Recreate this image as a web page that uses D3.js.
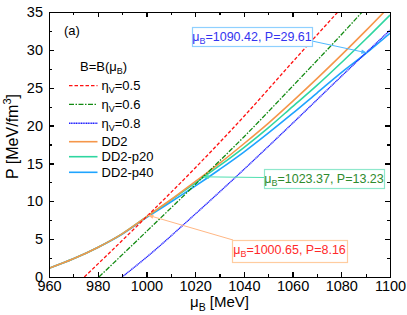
<!DOCTYPE html>
<html>
<head>
<meta charset="utf-8">
<script src="https://cdn.jsdelivr.net/npm/d3@7"></script>
<style>
  body { margin: 0; background: #fff; }
  svg { font-family: "Liberation Sans", Arial, sans-serif; }
  .axis path, .axis line { stroke: #000; stroke-width: 1.2px; shape-rendering: crispEdges; }
  .axis text { font-size: 14.5px; fill: #000; }
</style>
</head>
<body>
<div id="chart"></div>
<script>
// mu_B grid for the hadronic curves
const muDD2 = [960, 970, 980, 990, 1000, 1010, 1020, 1030, 1040, 1050, 1060, 1070, 1080, 1090, 1100];
const pDD2 = [1.15, 2.4, 3.9, 5.7, 7.95, 10.2, 12.6, 15.0, 17.6, 20.3, 23.2, 26.2, 29.3, 32.5, 35.8];
const pDD2p20 = [1.15, 2.4, 3.9, 5.7, 7.95, 10.15, 12.4, 14.7, 17.1, 19.7, 22.5, 25.3, 28.3, 31.4, 34.6];
const pDD2p40 = [1.15, 2.4, 3.9, 5.65, 7.85, 9.9, 12.0, 14.2, 16.5, 19.0, 21.6, 24.3, 27.0, 29.5, 32.2];

// quark matter curves, B=B(mu_B)
const muEta05 = [974.5, 980, 1000, 1020, 1040, 1060, 1080];
const pEta05 = [0, 1.7, 7.95, 14.4, 21.2, 28.4, 35.5];
const muEta06 = [980.5, 1000, 1020, 1040, 1060, 1080, 1090];
const pEta06 = [0, 6.0, 12.2, 18.5, 25.2, 32.0, 35.5];
const muEta08 = [990, 1000, 1020, 1040, 1060, 1080, 1100];
const pEta08 = [0, 2.6, 8.3, 14.2, 20.3, 26.5, 32.6];

const xTicks = [960, 980, 1000, 1020, 1040, 1060, 1080, 1100];
const yTicks = [0, 5, 10, 15, 20, 25, 30, 35];

// crossing points
const crossMu = [1090.42, 1023.37, 1000.65];
const crossP = [29.61, 13.23, 8.16];

const W = 407, H = 315;
const margin = { top: 12, right: 17, bottom: 38, left: 49 };
const width = W - margin.left - margin.right;
const height = H - margin.top - margin.bottom;

const x = d3.scaleLinear().domain([960, 1100]).range([0, width]);
const y = d3.scaleLinear().domain([0, 35]).range([height, 0]);

const svg = d3.select('#chart').append('svg')
  .attr('width', W).attr('height', H);

const defs = svg.append('defs');
defs.append('clipPath').attr('id', 'clip')
  .append('rect').attr('width', width).attr('height', height);

function marker(id, color) {
  defs.append('marker').attr('id', id)
    .attr('viewBox', '0 0 10 10').attr('refX', 9).attr('refY', 5)
    .attr('markerWidth', 7).attr('markerHeight', 6).attr('orient', 'auto')
    .append('path').attr('d', 'M0,1.5 L10,5 L0,8.5 Z').attr('fill', color);
}
marker('arrBlue', '#4fb8ff');
marker('arrTeal', '#4fe0b0');
marker('arrOrange', '#ffb784');

const g = svg.append('g').attr('transform', `translate(${margin.left},${margin.top})`);

const line = d3.line().curve(d3.curveMonotoneX).x(d => x(d[0])).y(d => y(d[1]));
const zip = (a, b) => a.map((v, i) => [v, b[i]]);

const series = [
  { mu: muDD2, p: pDD2, color: '#f5964a', dash: null, w: 1.6, name: 'DD2' },
  { mu: muDD2, p: pDD2p20, color: '#2fd6a0', dash: null, w: 1.6, name: 'DD2-p20' },
  { mu: muDD2, p: pDD2p40, color: '#1fa4ff', dash: null, w: 1.6, name: 'DD2-p40' },
  { mu: muEta05, p: pEta05, color: '#ff1010', dash: '3.5,2', w: 1.3, name: '0.5' },
  { mu: muEta06, p: pEta06, color: '#118a11', dash: '5,1.5,1.5,1.5', w: 1.3, name: '0.6' },
  { mu: muEta08, p: pEta08, color: '#2020ff', dash: '1.2,0.5', w: 1.4, name: '0.8' }
];

// draw order: p40, p20, DD2 on top, then quark curves
const drawOrder = [2, 1, 0, 3, 4, 5];
const plot = g.append('g').attr('clip-path', 'url(#clip)');
drawOrder.forEach(si => {
  const s = series[si];
  plot.append('path')
    .attr('d', line(zip(s.mu, s.p)))
    .attr('fill', 'none')
    .attr('stroke', s.color)
    .attr('stroke-width', s.w)
    .attr('stroke-dasharray', s.dash);
});

// axes with inward ticks
const minorX = d3.range(970, 1100, 20);
const minorY = d3.range(2.5, 35, 5);

g.append('g').attr('class', 'axis').attr('transform', `translate(0,${height})`)
  .call(d3.axisBottom(x).tickValues(xTicks).tickSize(-5).tickPadding(4).tickFormat(d3.format('d')));
g.append('g').attr('class', 'axis').attr('transform', `translate(0,${height})`)
  .call(d3.axisBottom(x).tickValues(minorX).tickSize(-3).tickFormat(''))
  .call(a => a.select('.domain').remove());
g.append('g').attr('class', 'axis')
  .call(d3.axisTop(x).tickValues(xTicks).tickSize(-5).tickFormat(''));
g.append('g').attr('class', 'axis')
  .call(d3.axisTop(x).tickValues(minorX).tickSize(-3).tickFormat(''))
  .call(a => a.select('.domain').remove());

g.append('g').attr('class', 'axis')
  .call(d3.axisLeft(y).tickValues(yTicks).tickSize(-5).tickPadding(6));
g.append('g').attr('class', 'axis')
  .call(d3.axisLeft(y).tickValues(minorY).tickSize(-3).tickFormat(''))
  .call(a => a.select('.domain').remove());
g.append('g').attr('class', 'axis').attr('transform', `translate(${width},0)`)
  .call(d3.axisRight(y).tickValues(yTicks).tickSize(-5).tickFormat(''));
g.append('g').attr('class', 'axis').attr('transform', `translate(${width},0)`)
  .call(d3.axisRight(y).tickValues(minorY).tickSize(-3).tickFormat(''))
  .call(a => a.select('.domain').remove());

// axis titles
const xt = svg.append('text')
  .attr('x', margin.left + width / 2).attr('y', H - 8)
  .attr('text-anchor', 'middle').attr('font-size', 15);
xt.append('tspan').text('μ');
xt.append('tspan').attr('font-size', 10.5).attr('dy', 4).text('B');
xt.append('tspan').attr('dy', -4).text(' [MeV]');

const yt = svg.append('text')
  .attr('transform', `translate(18,${margin.top + height / 2 - 8}) rotate(-90)`)
  .attr('text-anchor', 'middle').attr('font-size', 16);
yt.append('tspan').text('P [MeV/fm');
yt.append('tspan').attr('font-size', 11).attr('dy', -7).text('3');
yt.append('tspan').attr('dy', 7).text(']');

// panel label
g.append('text').attr('x', 15).attr('y', 23).attr('font-size', 13).text('(a)');

// legend
const lg = g.append('g');
const lt = lg.append('text').attr('x', 31).attr('y', 59).attr('font-size', 13);
lt.append('tspan').text('B=B(μ');
lt.append('tspan').attr('font-size', 9).attr('dy', 3).text('B');
lt.append('tspan').attr('dy', -3).text(')');

const legendOrder = [3, 4, 5, 0, 1, 2];
const legendY = [73.7, 92.3, 111.3, 129.7, 144.7, 160.3];
legendOrder.forEach((si, i) => {
  const s = series[si];
  const ly = legendY[i];
  lg.append('line').attr('x1', 20).attr('x2', 48.5).attr('y1', ly).attr('y2', ly)
    .attr('stroke', s.color).attr('stroke-width', s.w).attr('stroke-dasharray', s.dash);
  const t = lg.append('text').attr('x', 52.5).attr('y', ly + 4.5).attr('font-size', 13);
  if (si >= 3) {
    t.append('tspan').text('η');
    t.append('tspan').attr('font-size', 9).attr('dy', 3).text('V');
    t.append('tspan').attr('dy', -3).text('=' + s.name);
  } else {
    t.text(s.name);
  }
});

// annotations
const notes = [
  { box: [192, 27, 120, 19], border: '#8fd0ff', text: '#3434f0', line: '#4fb8ff', arrow: 'arrBlue', from: [312, 41] },
  { box: [264, 169, 120, 19], border: '#8fe8cc', text: '#2e8b2e', line: '#4fe0b0', arrow: 'arrTeal', from: [264, 177.5] },
  { box: [232, 240, 115, 22], border: '#ffcc9f', text: '#ff2a2a', line: '#ffb784', arrow: 'arrOrange', from: [233, 240] }
];
notes.forEach((n, i) => {
  const [bx, by, bw, bh] = n.box;
  const tx = margin.left + x(crossMu[i]);
  const ty = margin.top + y(crossP[i]);
  svg.append('line')
    .attr('x1', n.from[0]).attr('y1', n.from[1])
    .attr('x2', tx).attr('y2', ty)
    .attr('stroke', n.line).attr('stroke-width', 1)
    .attr('marker-end', `url(#${n.arrow})`);
  svg.append('rect').attr('x', bx + 0.5).attr('y', by + 0.5).attr('width', bw).attr('height', bh)
    .attr('fill', '#fff').attr('stroke', n.border).attr('stroke-width', 1.2);
  const t = svg.append('text').attr('x', bx + bw / 2).attr('y', by + 14)
    .attr('text-anchor', 'middle').attr('font-size', 12.5).attr('fill', n.text);
  t.append('tspan').text('μ');
  t.append('tspan').attr('font-size', 9).attr('dy', 3).text('B');
  t.append('tspan').attr('dy', -3).text(`=${crossMu[i].toFixed(2)}, P=${crossP[i].toFixed(2)}`);
});
</script>
</body>
</html>
